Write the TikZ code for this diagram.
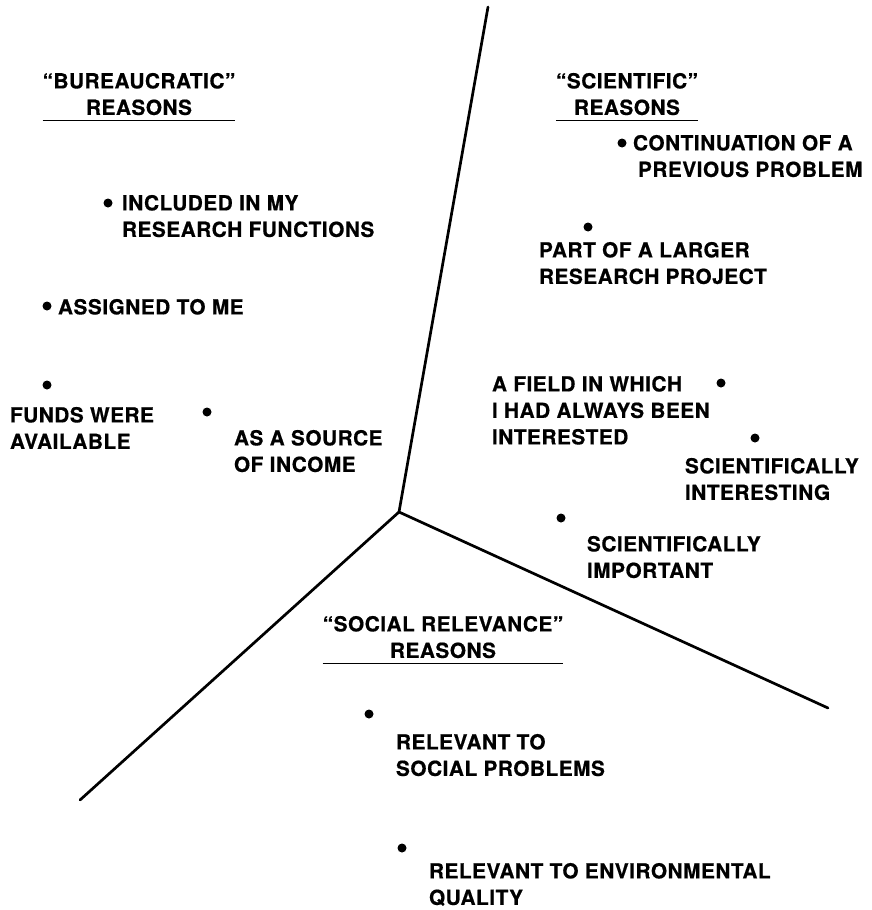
\documentclass[tikz,border=0pt]{standalone}
\usepackage{fontspec}
\newfontfamily\labfont[LetterSpace=2.5,FakeBold=0.6]{TeX Gyre Heros}
\begin{document}
\begin{tikzpicture}[x=1pt,y=-1pt,
  lab/.style={font=\labfont\bfseries\fontsize{20.8}{26.5}\selectfont,
    align=left, anchor=north west, inner sep=0pt, outer sep=0pt},
  heading/.style={lab, align=center, anchor=north},
  dot/.style={circle, fill=black, inner sep=0pt, minimum size=9pt},
  divider/.style={line width=2.7pt, line cap=round},
  underrule/.style={line width=1.5pt}]
\useasboundingbox (0,0) rectangle (871,910);

% the three boundaries meeting at one point
\coordinate (hub) at (399,512);
\coordinate (up) at (488,7);
\coordinate (east) at (828,708);
\coordinate (west) at (80,800);
\draw[divider] (hub) -- (up);
\draw[divider] (hub) -- (east);
\draw[divider] (hub) -- (west);

% headings
\node[heading] (hb) at (139,73) {“BUREAUCRATIC”\\REASONS};
\node[heading] (hs) at (627,73) {“SCIENTIFIC”\\REASONS};
\node[heading] (hr) at (443,616) {“SOCIAL RELEVANCE”\\REASONS};
\foreach \h in {hb,hs,hr}
  \draw[underrule] ([yshift=-5.5pt]\h.south west) -- ([yshift=-5.5pt]\h.south east);

% bureaucratic reasons
\node[dot] (db1) at (108,203) {};
\node[lab] (b1) at (122,195) {INCLUDED IN MY\\RESEARCH FUNCTIONS};
\node[dot] (db2) at (47,306) {};
\node[lab] (b2) at (58,299) {ASSIGNED TO ME};
\node[dot] (db3) at (47,385) {};
\node[lab] (b3) at (10,407) {FUNDS WERE\\AVAILABLE};
\node[dot] (db4) at (207,412) {};
\node[lab] (b4) at (234,430) {AS A SOURCE\\OF INCOME};

% scientific reasons
\node[dot] (ds1) at (622,143) {};
\node[lab] (s1) at (633,135) {CONTINUATION OF A\\\hspace*{5pt}PREVIOUS PROBLEM};
\node[dot] (ds2) at (588,227) {};
\node[lab] (s2) at (539,242) {PART OF A LARGER\\RESEARCH PROJECT};
\node[dot] (ds3) at (721,383) {};
\node[lab] (s3) at (492,376) {A FIELD IN WHICH\\I HAD ALWAYS BEEN\\INTERESTED};
\node[dot] (ds4) at (755,438) {};
\node[lab] (s4) at (685,458) {SCIENTIFICALLY\\INTERESTING};
\node[dot] (ds5) at (561,518) {};
\node[lab] (s5) at (587,536) {SCIENTIFICALLY\\IMPORTANT};

% social relevance reasons
\node[dot] (dr1) at (369,714) {};
\node[lab] (r1) at (396,734) {RELEVANT TO\\SOCIAL PROBLEMS};
\node[dot] (dr2) at (402,848) {};
\node[lab] (r2) at (429,863) {RELEVANT TO ENVIRONMENTAL\\QUALITY};
\end{tikzpicture}
\end{document}
